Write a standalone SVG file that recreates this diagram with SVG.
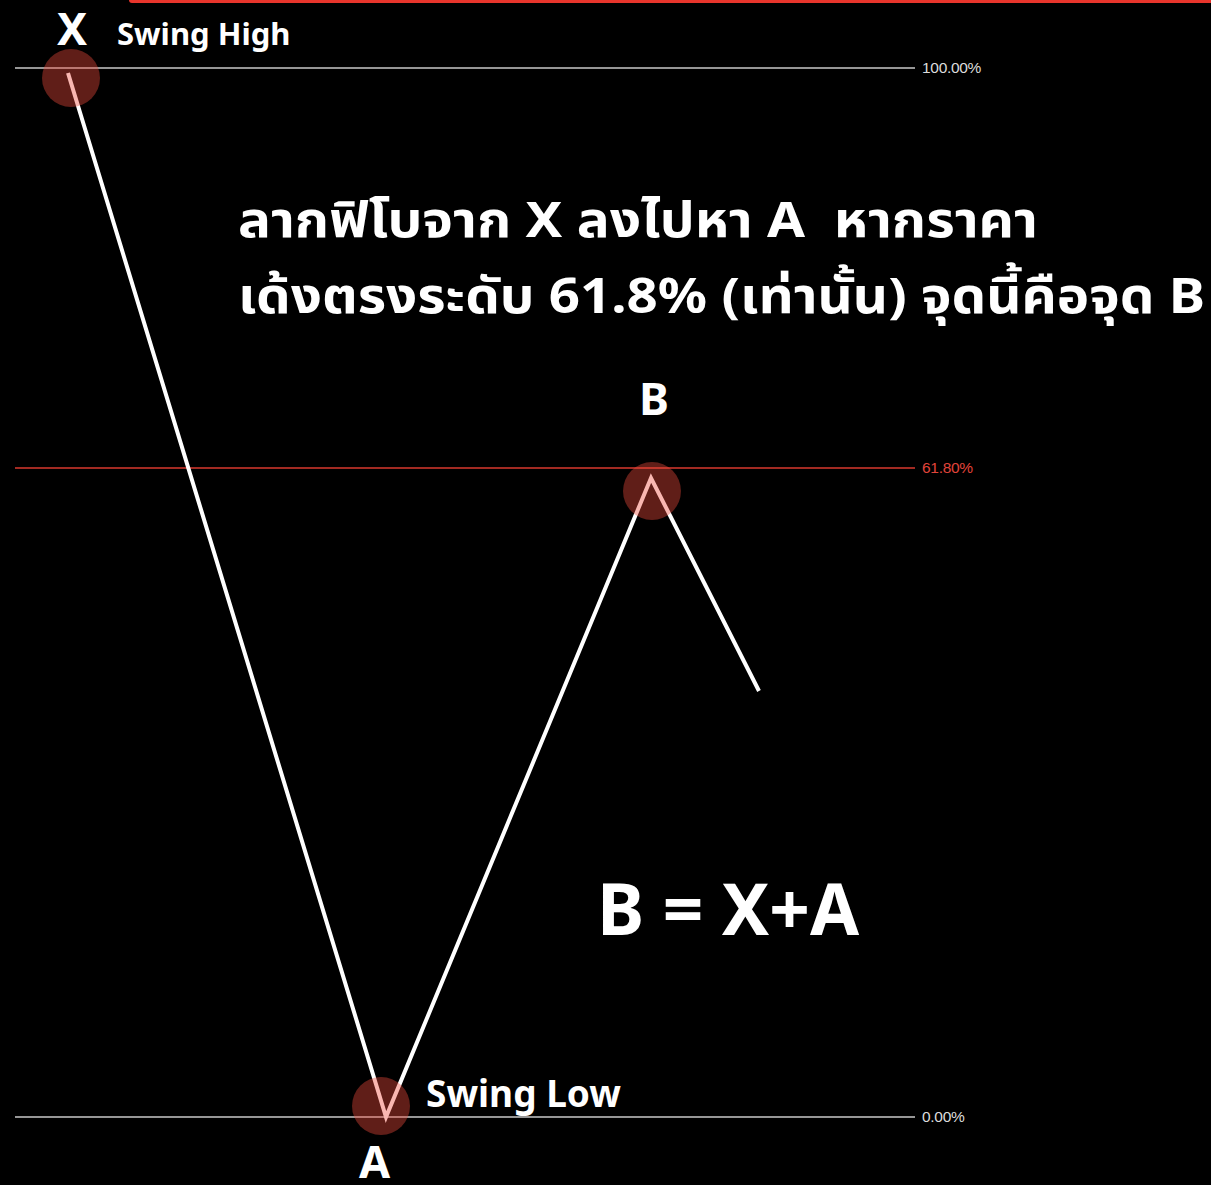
<svg xmlns="http://www.w3.org/2000/svg" width="1211" height="1185" viewBox="0 0 1211 1185">
<style>
.lvl{stroke:#c8c8c8;stroke-width:1.5}
.pct{font-family:"Liberation Sans",Arial,sans-serif;font-size:15.5px;fill:#dcdcdc;letter-spacing:-0.3px}
.t{font-family:"Noto Sans","Noto Sans Thai","DejaVu Sans",sans-serif;font-weight:bold;fill:#ffffff}
.pt{fill:#f04b3c;fill-opacity:0.4}
</style>
<rect x="0" y="0" width="1211" height="1185" fill="#000000"/>
<rect x="129" y="-4" width="1090" height="7" rx="3" fill="#e8352c"/>
<g id="levels">
<line class="lvl" x1="15" y1="68" x2="915" y2="68"/>
<line x1="15" y1="468" x2="915" y2="468" stroke="#d9392e" stroke-width="1.5"/>
<line class="lvl" x1="15" y1="1117" x2="915" y2="1117"/>
<text class="pct" x="922" y="73">100.00%</text>
<text class="pct" x="922" y="473" style="fill:#e0443a">61.80%</text>
<text class="pct" x="922" y="1122">0.00%</text>
</g>
<g id="connectors">
<polyline points="68,73 386,1117 651,478 759,691" fill="none" stroke="#ffffff" stroke-width="4" stroke-linejoin="miter"/>
</g>
<g id="node-X">
<circle class="pt" cx="71" cy="78" r="29"/>
<text class="t" x="57" y="45" font-size="45">X</text>
<text class="t" x="117" y="45" font-size="31">Swing High</text>
</g>
<g id="node-A">
<circle class="pt" cx="381" cy="1106" r="29"/>
<text class="t" x="359" y="1178" font-size="45">A</text>
<text class="t" x="426" y="1107" font-size="37">Swing Low</text>
</g>
<g id="node-B">
<circle class="pt" cx="652" cy="491" r="29"/>
<text class="t" x="639" y="415" font-size="45">B</text>
</g>
<g id="caption">
<text class="t" x="238" y="237" font-size="49" xml:space="preserve" textLength="800" lengthAdjust="spacingAndGlyphs">ลากฟิโบจาก X ลงไปหา A  หากราคา</text>
<text class="t" x="238" y="313" font-size="49" textLength="967" lengthAdjust="spacingAndGlyphs">เด้งตรงระดับ 61.8% (เท่านั้น) จุดนี้คือจุด B</text>
<text class="t" x="597" y="935" font-size="71">B = X+A</text>
</g>
</svg>
